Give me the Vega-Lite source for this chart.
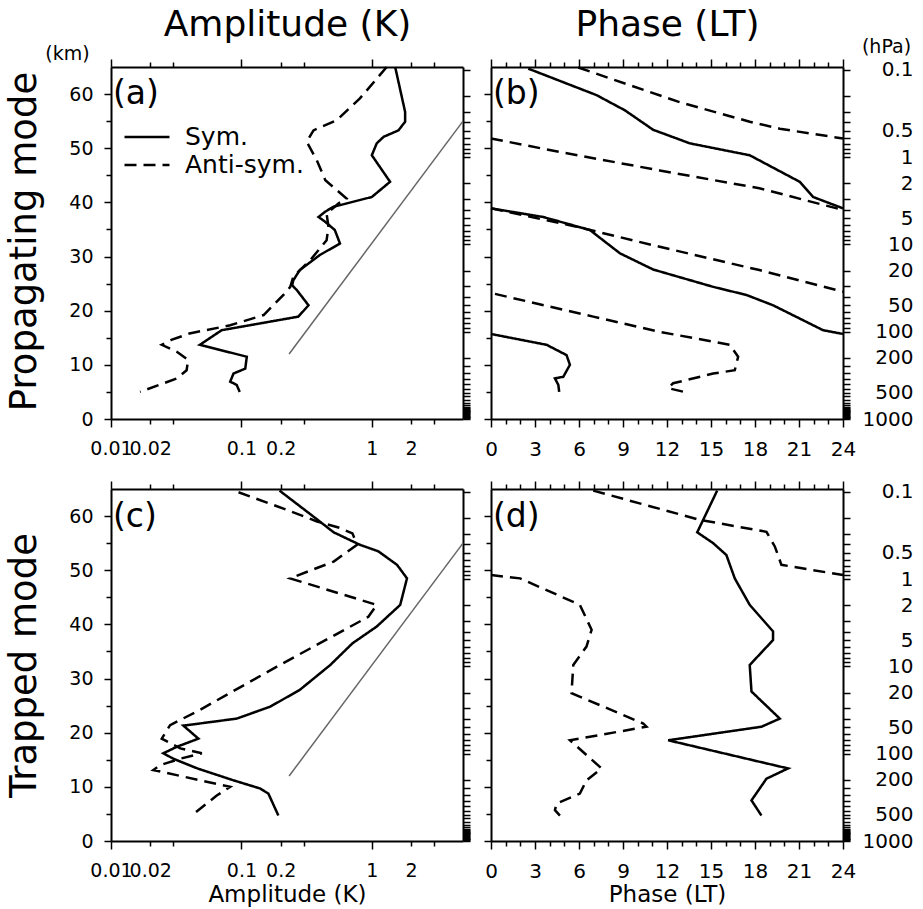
{
  "$schema": "https://vega.github.io/schema/vega-lite/v6.json",
  "autosize": {"type": "none"},
  "padding": {"left": 111, "top": 67, "right": 812, "bottom": 842},
  "background": "white",
  "datasets": {
    "a": [
      {"type":"Sym.","seg":"S1","i":0,"amp":1.51,"km":65},
      {"type":"Sym.","seg":"S1","i":1,"amp":1.80,"km":56.7},
      {"type":"Sym.","seg":"S1","i":2,"amp":1.80,"km":54.9},
      {"type":"Sym.","seg":"S1","i":3,"amp":1.60,"km":53.3},
      {"type":"Sym.","seg":"S1","i":4,"amp":1.23,"km":52.1},
      {"type":"Sym.","seg":"S1","i":5,"amp":1.09,"km":50.9},
      {"type":"Sym.","seg":"S1","i":6,"amp":1.0,"km":48.7},
      {"type":"Sym.","seg":"S1","i":7,"amp":1.38,"km":43.8},
      {"type":"Sym.","seg":"S1","i":8,"amp":1.0,"km":41.0},
      {"type":"Sym.","seg":"S1","i":9,"amp":0.64,"km":39.8},
      {"type":"Sym.","seg":"S1","i":10,"amp":0.51,"km":39.2},
      {"type":"Sym.","seg":"S1","i":11,"amp":0.44,"km":38.3},
      {"type":"Sym.","seg":"S1","i":12,"amp":0.39,"km":37.3},
      {"type":"Sym.","seg":"S1","i":13,"amp":0.44,"km":36.4},
      {"type":"Sym.","seg":"S1","i":14,"amp":0.52,"km":34.9},
      {"type":"Sym.","seg":"S1","i":15,"amp":0.57,"km":32.4},
      {"type":"Sym.","seg":"S1","i":16,"amp":0.40,"km":30.3},
      {"type":"Sym.","seg":"S1","i":17,"amp":0.28,"km":27.5},
      {"type":"Sym.","seg":"S1","i":18,"amp":0.25,"km":25.6},
      {"type":"Sym.","seg":"S1","i":19,"amp":0.245,"km":24.7},
      {"type":"Sym.","seg":"S1","i":20,"amp":0.266,"km":23.8},
      {"type":"Sym.","seg":"S1","i":21,"amp":0.327,"km":21.0},
      {"type":"Sym.","seg":"S1","i":22,"amp":0.273,"km":18.9},
      {"type":"Sym.","seg":"S1","i":23,"amp":0.0706,"km":16.4},
      {"type":"Sym.","seg":"S1","i":24,"amp":0.048,"km":13.7},
      {"type":"Sym.","seg":"S1","i":25,"amp":0.11,"km":11.5},
      {"type":"Sym.","seg":"S1","i":26,"amp":0.107,"km":9.3},
      {"type":"Sym.","seg":"S1","i":27,"amp":0.087,"km":8.4},
      {"type":"Sym.","seg":"S1","i":28,"amp":0.082,"km":6.9},
      {"type":"Sym.","seg":"S1","i":29,"amp":0.092,"km":6.3},
      {"type":"Sym.","seg":"S1","i":30,"amp":0.097,"km":5.0},
      {"type":"Anti-sym.","seg":"A1","i":0,"amp":1.30,"km":65},
      {"type":"Anti-sym.","seg":"A1","i":1,"amp":0.81,"km":59.2},
      {"type":"Anti-sym.","seg":"A1","i":2,"amp":0.54,"km":55.2},
      {"type":"Anti-sym.","seg":"A1","i":3,"amp":0.357,"km":53.3},
      {"type":"Anti-sym.","seg":"A1","i":4,"amp":0.317,"km":51.2},
      {"type":"Anti-sym.","seg":"A1","i":5,"amp":0.378,"km":47.8},
      {"type":"Anti-sym.","seg":"A1","i":6,"amp":0.44,"km":44.1},
      {"type":"Anti-sym.","seg":"A1","i":7,"amp":0.64,"km":40.7},
      {"type":"Anti-sym.","seg":"A1","i":8,"amp":0.554,"km":39.8},
      {"type":"Anti-sym.","seg":"A1","i":9,"amp":0.45,"km":37.9},
      {"type":"Anti-sym.","seg":"A1","i":10,"amp":0.465,"km":35.5},
      {"type":"Anti-sym.","seg":"A1","i":11,"amp":0.45,"km":33.0},
      {"type":"Anti-sym.","seg":"A1","i":12,"amp":0.336,"km":29.3},
      {"type":"Anti-sym.","seg":"A1","i":13,"amp":0.25,"km":26.3},
      {"type":"Anti-sym.","seg":"A1","i":14,"amp":0.237,"km":24.4},
      {"type":"Anti-sym.","seg":"A1","i":15,"amp":0.21,"km":22.9},
      {"type":"Anti-sym.","seg":"A1","i":16,"amp":0.148,"km":19.2},
      {"type":"Anti-sym.","seg":"A1","i":17,"amp":0.082,"km":17.3},
      {"type":"Anti-sym.","seg":"A1","i":18,"amp":0.040,"km":15.8},
      {"type":"Anti-sym.","seg":"A1","i":19,"amp":0.029,"km":14.6},
      {"type":"Anti-sym.","seg":"A1","i":20,"amp":0.0245,"km":13.7},
      {"type":"Anti-sym.","seg":"A1","i":21,"amp":0.032,"km":12.4},
      {"type":"Anti-sym.","seg":"A1","i":22,"amp":0.039,"km":10.9},
      {"type":"Anti-sym.","seg":"A1","i":23,"amp":0.038,"km":9.0},
      {"type":"Anti-sym.","seg":"A1","i":24,"amp":0.032,"km":7.5},
      {"type":"Anti-sym.","seg":"A1","i":25,"amp":0.0167,"km":5.0}
    ],
    "b": [
      {"type":"Sym.","seg":"S1","i":0,"phase":2.54,"km":64.7},
      {"type":"Sym.","seg":"S1","i":1,"phase":7.2,"km":59.8},
      {"type":"Sym.","seg":"S1","i":2,"phase":9.13,"km":57.0},
      {"type":"Sym.","seg":"S1","i":3,"phase":11.06,"km":53.4},
      {"type":"Sym.","seg":"S1","i":4,"phase":13.56,"km":50.9},
      {"type":"Sym.","seg":"S1","i":5,"phase":17.64,"km":48.7},
      {"type":"Sym.","seg":"S1","i":6,"phase":21.05,"km":43.8},
      {"type":"Sym.","seg":"S1","i":7,"phase":21.96,"km":41.0},
      {"type":"Sym.","seg":"S1","i":8,"phase":24,"km":38.9},
      {"type":"Sym.","seg":"S2","i":9,"phase":0,"km":38.9},
      {"type":"Sym.","seg":"S2","i":10,"phase":3.56,"km":37.3},
      {"type":"Sym.","seg":"S2","i":11,"phase":6.74,"km":34.9},
      {"type":"Sym.","seg":"S2","i":12,"phase":8.79,"km":30.6},
      {"type":"Sym.","seg":"S2","i":13,"phase":11.06,"km":27.6},
      {"type":"Sym.","seg":"S2","i":14,"phase":15.15,"km":24.4},
      {"type":"Sym.","seg":"S2","i":15,"phase":17.42,"km":22.9},
      {"type":"Sym.","seg":"S2","i":16,"phase":19.23,"km":21.0},
      {"type":"Sym.","seg":"S2","i":17,"phase":22.64,"km":16.4},
      {"type":"Sym.","seg":"S2","i":18,"phase":24,"km":15.7},
      {"type":"Sym.","seg":"S3","i":19,"phase":0,"km":15.7},
      {"type":"Sym.","seg":"S3","i":20,"phase":3.79,"km":13.7},
      {"type":"Sym.","seg":"S3","i":21,"phase":5.15,"km":11.8},
      {"type":"Sym.","seg":"S3","i":22,"phase":5.38,"km":10.0},
      {"type":"Sym.","seg":"S3","i":23,"phase":4.93,"km":7.8},
      {"type":"Sym.","seg":"S3","i":24,"phase":4.36,"km":7.5},
      {"type":"Sym.","seg":"S3","i":25,"phase":4.59,"km":6.3},
      {"type":"Sym.","seg":"S3","i":26,"phase":4.65,"km":5.0},
      {"type":"Anti-sym.","seg":"A1","i":0,"phase":5.95,"km":64.9},
      {"type":"Anti-sym.","seg":"A1","i":1,"phase":12.87,"km":58.5},
      {"type":"Anti-sym.","seg":"A1","i":2,"phase":17.64,"km":54.9},
      {"type":"Anti-sym.","seg":"A1","i":3,"phase":19.69,"km":53.6},
      {"type":"Anti-sym.","seg":"A1","i":4,"phase":24,"km":51.8},
      {"type":"Anti-sym.","seg":"A2","i":5,"phase":0,"km":51.8},
      {"type":"Anti-sym.","seg":"A2","i":6,"phase":4.7,"km":49.3},
      {"type":"Anti-sym.","seg":"A2","i":7,"phase":11.5,"km":45.9},
      {"type":"Anti-sym.","seg":"A2","i":8,"phase":18.3,"km":42.6},
      {"type":"Anti-sym.","seg":"A2","i":9,"phase":24,"km":38.6},
      {"type":"Anti-sym.","seg":"A3","i":10,"phase":0,"km":38.9},
      {"type":"Anti-sym.","seg":"A3","i":11,"phase":5.84,"km":35.5},
      {"type":"Anti-sym.","seg":"A3","i":12,"phase":11.5,"km":31.8},
      {"type":"Anti-sym.","seg":"A3","i":13,"phase":18.3,"km":27.5},
      {"type":"Anti-sym.","seg":"A3","i":14,"phase":24,"km":23.5},
      {"type":"Anti-sym.","seg":"A4","i":15,"phase":0.27,"km":23.1},
      {"type":"Anti-sym.","seg":"A4","i":16,"phase":6.97,"km":18.9},
      {"type":"Anti-sym.","seg":"A4","i":17,"phase":11.5,"km":16.1},
      {"type":"Anti-sym.","seg":"A4","i":18,"phase":16.28,"km":13.7},
      {"type":"Anti-sym.","seg":"A4","i":19,"phase":16.85,"km":11.5},
      {"type":"Anti-sym.","seg":"A4","i":20,"phase":16.62,"km":9.0},
      {"type":"Anti-sym.","seg":"A4","i":21,"phase":15.15,"km":8.4},
      {"type":"Anti-sym.","seg":"A4","i":22,"phase":12.42,"km":6.6},
      {"type":"Anti-sym.","seg":"A4","i":23,"phase":12.08,"km":5.7},
      {"type":"Anti-sym.","seg":"A4","i":24,"phase":13.33,"km":4.9}
    ],
    "c": [
      {"type":"Sym.","seg":"S1","i":0,"amp":0.196,"km":64.7},
      {"type":"Sym.","seg":"S1","i":1,"amp":0.357,"km":59.9},
      {"type":"Sym.","seg":"S1","i":2,"amp":0.51,"km":57.0},
      {"type":"Sym.","seg":"S1","i":3,"amp":0.81,"km":54.7},
      {"type":"Sym.","seg":"S1","i":4,"amp":1.12,"km":53.5},
      {"type":"Sym.","seg":"S1","i":5,"amp":1.56,"km":51.0},
      {"type":"Sym.","seg":"S1","i":6,"amp":1.86,"km":48.5},
      {"type":"Sym.","seg":"S1","i":7,"amp":1.65,"km":43.6},
      {"type":"Sym.","seg":"S1","i":8,"amp":1.09,"km":39.6},
      {"type":"Sym.","seg":"S1","i":9,"amp":0.71,"km":36.5},
      {"type":"Sym.","seg":"S1","i":10,"amp":0.48,"km":32.5},
      {"type":"Sym.","seg":"S1","i":11,"amp":0.28,"km":27.9},
      {"type":"Sym.","seg":"S1","i":12,"amp":0.166,"km":24.8},
      {"type":"Sym.","seg":"S1","i":13,"amp":0.092,"km":22.6},
      {"type":"Sym.","seg":"S1","i":14,"amp":0.0359,"km":21.3},
      {"type":"Sym.","seg":"S1","i":15,"amp":0.0468,"km":18.9},
      {"type":"Sym.","seg":"S1","i":16,"amp":0.032,"km":17.4},
      {"type":"Sym.","seg":"S1","i":17,"amp":0.0252,"km":16.2},
      {"type":"Sym.","seg":"S1","i":18,"amp":0.030,"km":15.2},
      {"type":"Sym.","seg":"S1","i":19,"amp":0.046,"km":13.4},
      {"type":"Sym.","seg":"S1","i":20,"amp":0.087,"km":11.2},
      {"type":"Sym.","seg":"S1","i":21,"amp":0.139,"km":9.7},
      {"type":"Sym.","seg":"S1","i":22,"amp":0.161,"km":8.75},
      {"type":"Sym.","seg":"S1","i":23,"amp":0.192,"km":4.7},
      {"type":"Anti-sym.","seg":"A1","i":0,"amp":0.095,"km":64.4},
      {"type":"Anti-sym.","seg":"A1","i":1,"amp":0.22,"km":61.2},
      {"type":"Anti-sym.","seg":"A1","i":2,"amp":0.38,"km":59.0},
      {"type":"Anti-sym.","seg":"A1","i":3,"amp":0.57,"km":57.8},
      {"type":"Anti-sym.","seg":"A1","i":4,"amp":0.71,"km":56.8},
      {"type":"Anti-sym.","seg":"A1","i":5,"amp":0.77,"km":54.7},
      {"type":"Anti-sym.","seg":"A1","i":6,"amp":0.51,"km":51.6},
      {"type":"Anti-sym.","seg":"A1","i":7,"amp":0.236,"km":48.5},
      {"type":"Anti-sym.","seg":"A1","i":8,"amp":1.09,"km":43.6},
      {"type":"Anti-sym.","seg":"A1","i":9,"amp":0.94,"km":41.4},
      {"type":"Anti-sym.","seg":"A1","i":10,"amp":0.187,"km":32.2},
      {"type":"Anti-sym.","seg":"A1","i":11,"amp":0.048,"km":24.2},
      {"type":"Anti-sym.","seg":"A1","i":12,"amp":0.0284,"km":21.4},
      {"type":"Anti-sym.","seg":"A1","i":13,"amp":0.0245,"km":18.9},
      {"type":"Anti-sym.","seg":"A1","i":14,"amp":0.034,"km":17.1},
      {"type":"Anti-sym.","seg":"A1","i":15,"amp":0.0497,"km":16.2},
      {"type":"Anti-sym.","seg":"A1","i":16,"amp":0.034,"km":15.2},
      {"type":"Anti-sym.","seg":"A1","i":17,"amp":0.0238,"km":14.0},
      {"type":"Anti-sym.","seg":"A1","i":18,"amp":0.0211,"km":13.1},
      {"type":"Anti-sym.","seg":"A1","i":19,"amp":0.082,"km":10.0},
      {"type":"Anti-sym.","seg":"A1","i":20,"amp":0.0647,"km":8.4},
      {"type":"Anti-sym.","seg":"A1","i":21,"amp":0.0416,"km":4.7}
    ],
    "d": [
      {"type":"Sym.","seg":"S1","i":0,"phase":15.42,"km":64.7},
      {"type":"Sym.","seg":"S1","i":1,"phase":14.06,"km":57.0},
      {"type":"Sym.","seg":"S1","i":2,"phase":15.15,"km":55.0},
      {"type":"Sym.","seg":"S1","i":3,"phase":16.05,"km":52.8},
      {"type":"Sym.","seg":"S1","i":4,"phase":16.62,"km":48.5},
      {"type":"Sym.","seg":"S1","i":5,"phase":17.64,"km":43.6},
      {"type":"Sym.","seg":"S1","i":6,"phase":19.23,"km":38.7},
      {"type":"Sym.","seg":"S1","i":7,"phase":19.23,"km":37.1},
      {"type":"Sym.","seg":"S1","i":8,"phase":17.64,"km":32.5},
      {"type":"Sym.","seg":"S1","i":9,"phase":17.76,"km":27.6},
      {"type":"Sym.","seg":"S1","i":10,"phase":19.69,"km":22.6},
      {"type":"Sym.","seg":"S1","i":11,"phase":18.44,"km":21.1},
      {"type":"Sym.","seg":"S1","i":12,"phase":12.08,"km":18.6},
      {"type":"Sym.","seg":"S1","i":13,"phase":20.25,"km":13.4},
      {"type":"Sym.","seg":"S1","i":14,"phase":18.78,"km":11.5},
      {"type":"Sym.","seg":"S1","i":15,"phase":17.76,"km":7.5},
      {"type":"Sym.","seg":"S1","i":16,"phase":18.44,"km":4.7},
      {"type":"Anti-sym.","seg":"A1","i":0,"phase":6.97,"km":64.7},
      {"type":"Anti-sym.","seg":"A1","i":1,"phase":14.24,"km":59.3},
      {"type":"Anti-sym.","seg":"A1","i":2,"phase":18.78,"km":57.1},
      {"type":"Anti-sym.","seg":"A1","i":3,"phase":19.35,"km":54.4},
      {"type":"Anti-sym.","seg":"A1","i":4,"phase":19.80,"km":51.0},
      {"type":"Anti-sym.","seg":"A1","i":5,"phase":24,"km":49.1},
      {"type":"Anti-sym.","seg":"A2","i":6,"phase":0,"km":49.1},
      {"type":"Anti-sym.","seg":"A2","i":7,"phase":1.98,"km":48.5},
      {"type":"Anti-sym.","seg":"A2","i":8,"phase":6.06,"km":43.6},
      {"type":"Anti-sym.","seg":"A2","i":9,"phase":6.86,"km":39.0},
      {"type":"Anti-sym.","seg":"A2","i":10,"phase":6.51,"km":35.9},
      {"type":"Anti-sym.","seg":"A2","i":11,"phase":5.61,"km":32.5},
      {"type":"Anti-sym.","seg":"A2","i":12,"phase":5.49,"km":27.3},
      {"type":"Anti-sym.","seg":"A2","i":13,"phase":10.38,"km":21.7},
      {"type":"Anti-sym.","seg":"A2","i":14,"phase":10.6,"km":21.1},
      {"type":"Anti-sym.","seg":"A2","i":15,"phase":5.38,"km":18.6},
      {"type":"Anti-sym.","seg":"A2","i":16,"phase":7.54,"km":13.4},
      {"type":"Anti-sym.","seg":"A2","i":17,"phase":6.51,"km":11.2},
      {"type":"Anti-sym.","seg":"A2","i":18,"phase":6.06,"km":8.75},
      {"type":"Anti-sym.","seg":"A2","i":19,"phase":4.47,"km":6.9},
      {"type":"Anti-sym.","seg":"A2","i":20,"phase":4.36,"km":5.7},
      {"type":"Anti-sym.","seg":"A2","i":21,"phase":4.70,"km":4.7}
    ],
    "ref": [
      {"amp":0.232,"km":12},
      {"amp":5,"km":55}
    ]
  },
  "concat": [
    {
      "width": 352, "height": 352,
      "title": {"text": "(a)", "anchor": "start", "frame": "group", "fontSize": 33, "offset": -131, "baseline": "alphabetic", "dx": 2},
      "resolve": {"axis": {"x": "independent", "y": "independent"}},
      "layer": [
        {
          "data": {"name": "a"},
          "transform": [{"filter": "datum.type == 'Sym.'"}],
          "mark": {"type": "line"},
          "encoding": {
            "x": {"field": "amp", "type": "quantitative", "scale": {"type": "log", "domain": [0.01, 5], "nice": false},
              "axis": {"orient": "bottom", "values": [0.01,0.02,0.03,0.1,0.2,0.3,1,2,3],
                "labelExpr": "datum.value == 0.03 || datum.value == 0.3 || datum.value == 3 ? '' : format(datum.value, '~g')",
                "tickSize": {"condition": {"test": "datum.value == 0.01 || datum.value == 0.1 || datum.value == 1", "value": 8}, "value": 5},
                "labelPadding": {"condition": {"test": "datum.value == 0.01 || datum.value == 0.1 || datum.value == 1", "value": 12}, "value": 15},
                "labelFontSize": 19, "title": null}},
            "y": {"field": "km", "type": "quantitative", "scale": {"domain": [0, 65], "nice": false},
              "axis": {"orient": "left", "values": [0,5,10,15,20,25,30,35,40,45,50,55,60],
                "labelExpr": "datum.value % 10 == 0 ? datum.label : ''",
                "tickSize": {"condition": {"test": "datum.value % 10 == 0", "value": 7}, "value": 5},
                "labelPadding": 11, "labelFontSize": 19,
                "title": "Propagating mode", "titleFontSize": 37, "titleAngle": 270, "titleX": -87, "titleY": 174, "titleAlign": "center", "titleBaseline": "middle"}},
            "strokeDash": {"field": "type", "type": "nominal", "scale": {"domain": ["Sym.", "Anti-sym."], "range": [[1, 0], [12, 7]]},
              "legend": {"orient": "none", "legendX": 12, "legendY": 56, "title": null, "symbolType": "stroke", "symbolSize": 2025, "symbolStrokeWidth": 2.5, "symbolStrokeColor": "black", "labelFontSize": 25, "labelColor": "black", "labelOffset": 14, "clipHeight": 28, "rowPadding": 0, "padding": 0}},
            "detail": {"field": "seg"},
            "order": {"field": "i", "type": "quantitative"}
          }
        },
        {
          "data": {"name": "a"},
          "transform": [{"filter": "datum.type == 'Anti-sym.'"}],
          "mark": {"type": "line"},
          "encoding": {
            "x": {"field": "amp", "type": "quantitative", "scale": {"type": "log", "domain": [0.01, 5], "nice": false},
              "axis": {"orient": "top", "values": [0.01,0.02,0.03,0.1,0.2,0.3,1,2,3], "labels": false,
                "tickSize": {"condition": {"test": "datum.value == 0.01 || datum.value == 0.1 || datum.value == 1", "value": 8}, "value": 5},
                "title": "Amplitude (K)", "titleFontSize": 36, "titleY": -32, "titleBaseline": "alphabetic"}},
            "y": {"field": "km", "type": "quantitative", "scale": {"domain": [0, 65], "nice": false},
              "axis": {"orient": "right", "labels": false, "tickSize": 7, "title": null,
                "values": [64.4724,59.6203,56.7821,54.7683,53.2063,51.93,50.851,49.9163,49.0918,48.3543,43.5023,40.664,38.6502,37.0882,35.812,34.7329,33.7982,32.9737,32.2362,27.3841,24.5459,22.5321,20.9701,19.6939,18.6148,17.6801,16.8556,16.1181,11.2661,9.704,8.4278,7.349,6.414,5.59,4.852,4.185,3.5758,3.0155,2.4967,2.2995,2.1078,1.9211,1.7392,1.562,1.3892,1.2205,1.0557,0.8948,0.7375,0.5837,0.4332,0.2858,0.1414,0]}},
            "strokeDash": {"field": "type", "type": "nominal", "scale": {"domain": ["Sym.", "Anti-sym."], "range": [[1, 0], [12, 7]]}, "legend": null},
            "detail": {"field": "seg"},
            "order": {"field": "i", "type": "quantitative"}
          }
        },
        {
          "data": {"name": "ref"},
          "mark": {"type": "line", "color": "#666666", "strokeWidth": 1.5},
          "encoding": {
            "x": {"field": "amp", "type": "quantitative", "scale": {"type": "log", "domain": [0.01, 5], "nice": false}, "axis": null},
            "y": {"field": "km", "type": "quantitative", "scale": {"domain": [0, 65], "nice": false},
              "axis": {"orient": "left", "domain": false, "ticks": false, "labels": false, "title": "(km)", "titleAngle": 0, "titleX": -44, "titleY": -14, "titleFontSize": 19, "titleAlign": "center", "titleBaseline": "middle"}}
          }
        }
      ]
    },
    {
      "width": 352, "height": 352,
      "title": {"text": "(b)", "anchor": "start", "frame": "group", "fontSize": 33, "offset": -131, "baseline": "alphabetic", "dx": 2},
      "resolve": {"axis": {"x": "independent", "y": "independent"}},
      "layer": [
        {
          "data": {"name": "b"},
          "transform": [{"filter": "datum.type == 'Sym.'"}],
          "mark": {"type": "line"},
          "encoding": {
            "x": {"field": "phase", "type": "quantitative", "scale": {"domain": [0, 24], "nice": false},
              "axis": {"orient": "bottom", "values": [0,1,2,3,4,5,6,7,8,9,10,11,12,13,14,15,16,17,18,19,20,21,22,23,24],
                "labelExpr": "datum.value % 3 == 0 ? datum.label : ''",
                "tickSize": {"condition": {"test": "datum.value % 3 == 0", "value": 8}, "value": 5},
                "labelPadding": 12, "labelFontSize": 20, "title": null}},
            "y": {"field": "km", "type": "quantitative", "scale": {"domain": [0, 65], "nice": false},
              "axis": {"orient": "left", "values": [0,5,10,15,20,25,30,35,40,45,50,55,60], "labels": false,
                "tickSize": {"condition": {"test": "datum.value % 10 == 0", "value": 7}, "value": 5}, "title": null}},
            "strokeDash": {"field": "type", "type": "nominal", "scale": {"domain": ["Sym.", "Anti-sym."], "range": [[1, 0], [12, 7]]}, "legend": null},
            "detail": {"field": "seg"},
            "order": {"field": "i", "type": "quantitative"}
          }
        },
        {
          "data": {"name": "b"},
          "transform": [{"filter": "datum.type == 'Anti-sym.'"}],
          "mark": {"type": "line"},
          "encoding": {
            "x": {"field": "phase", "type": "quantitative", "scale": {"domain": [0, 24], "nice": false},
              "axis": {"orient": "top", "values": [0,1,2,3,4,5,6,7,8,9,10,11,12,13,14,15,16,17,18,19,20,21,22,23,24], "labels": false,
                "tickSize": {"condition": {"test": "datum.value % 3 == 0", "value": 8}, "value": 5},
                "title": "Phase (LT)", "titleFontSize": 36, "titleY": -32, "titleBaseline": "alphabetic"}},
            "y": {"field": "km", "type": "quantitative", "scale": {"domain": [0, 65], "nice": false},
              "axis": {"orient": "right", "tickSize": 7,
                "values": [64.4724,59.6203,56.7821,54.7683,53.2063,51.93,50.851,49.9163,49.0918,48.3543,43.5023,40.664,38.6502,37.0882,35.812,34.7329,33.7982,32.9737,32.2362,27.3841,24.5459,22.5321,20.9701,19.6939,18.6148,17.6801,16.8556,16.1181,11.2661,9.704,8.4278,7.349,6.414,5.59,4.852,4.185,3.5758,3.0155,2.4967,2.2995,2.1078,1.9211,1.7392,1.562,1.3892,1.2205,1.0557,0.8948,0.7375,0.5837,0.4332,0.2858,0.1414,0],
                "labelExpr": "indexof(['0.1','0.5','1','2','5','10','20','50','100','200','500','1000'], format(1000*exp(-datum.value/7), '.2~r')) >= 0 ? format(1000*exp(-datum.value/7), '.2~r') : ''",
                "labelAlign": "right", "labelBaseline": "middle", "labelPadding": 63, "labelFontSize": 20,
                "title": "(hPa)", "titleAngle": 0, "titleX": 43, "titleY": -21, "titleFontSize": 19, "titleAlign": "center", "titleBaseline": "middle"}},
            "strokeDash": {"field": "type", "type": "nominal", "scale": {"domain": ["Sym.", "Anti-sym."], "range": [[1, 0], [12, 7]]}, "legend": null},
            "detail": {"field": "seg"},
            "order": {"field": "i", "type": "quantitative"}
          }
        }
      ]
    },
    {
      "width": 352, "height": 352,
      "title": {"text": "(c)", "anchor": "start", "frame": "group", "fontSize": 33, "offset": -80, "baseline": "alphabetic", "dx": 2},
      "resolve": {"axis": {"x": "independent", "y": "independent"}},
      "layer": [
        {
          "data": {"name": "c"},
          "transform": [{"filter": "datum.type == 'Sym.'"}],
          "mark": {"type": "line"},
          "encoding": {
            "x": {"field": "amp", "type": "quantitative", "scale": {"type": "log", "domain": [0.01, 5], "nice": false},
              "axis": {"orient": "bottom", "values": [0.01,0.02,0.03,0.1,0.2,0.3,1,2,3],
                "labelExpr": "datum.value == 0.03 || datum.value == 0.3 || datum.value == 3 ? '' : format(datum.value, '~g')",
                "tickSize": {"condition": {"test": "datum.value == 0.01 || datum.value == 0.1 || datum.value == 1", "value": 8}, "value": 5},
                "labelPadding": {"condition": {"test": "datum.value == 0.01 || datum.value == 0.1 || datum.value == 1", "value": 12}, "value": 15},
                "labelFontSize": 19,
                "title": "Amplitude (K)", "titleFontSize": 23, "titleY": 60, "titleBaseline": "alphabetic"}},
            "y": {"field": "km", "type": "quantitative", "scale": {"domain": [0, 65], "nice": false},
              "axis": {"orient": "left", "values": [0,5,10,15,20,25,30,35,40,45,50,55,60],
                "labelExpr": "datum.value % 10 == 0 ? datum.label : ''",
                "tickSize": {"condition": {"test": "datum.value % 10 == 0", "value": 7}, "value": 5},
                "labelPadding": 11, "labelFontSize": 19,
                "title": "Trapped mode", "titleFontSize": 37, "titleAngle": 270, "titleX": -87, "titleY": 176, "titleAlign": "center", "titleBaseline": "middle"}},
            "strokeDash": {"field": "type", "type": "nominal", "scale": {"domain": ["Sym.", "Anti-sym."], "range": [[1, 0], [12, 7]]}, "legend": null},
            "detail": {"field": "seg"},
            "order": {"field": "i", "type": "quantitative"}
          }
        },
        {
          "data": {"name": "c"},
          "transform": [{"filter": "datum.type == 'Anti-sym.'"}],
          "mark": {"type": "line"},
          "encoding": {
            "x": {"field": "amp", "type": "quantitative", "scale": {"type": "log", "domain": [0.01, 5], "nice": false},
              "axis": {"orient": "top", "values": [0.01,0.02,0.03,0.1,0.2,0.3,1,2,3], "labels": false,
                "tickSize": {"condition": {"test": "datum.value == 0.01 || datum.value == 0.1 || datum.value == 1", "value": 8}, "value": 5},
                "title": null}},
            "y": {"field": "km", "type": "quantitative", "scale": {"domain": [0, 65], "nice": false},
              "axis": {"orient": "right", "labels": false, "tickSize": 7, "title": null,
                "values": [64.4724,59.6203,56.7821,54.7683,53.2063,51.93,50.851,49.9163,49.0918,48.3543,43.5023,40.664,38.6502,37.0882,35.812,34.7329,33.7982,32.9737,32.2362,27.3841,24.5459,22.5321,20.9701,19.6939,18.6148,17.6801,16.8556,16.1181,11.2661,9.704,8.4278,7.349,6.414,5.59,4.852,4.185,3.5758,3.0155,2.4967,2.2995,2.1078,1.9211,1.7392,1.562,1.3892,1.2205,1.0557,0.8948,0.7375,0.5837,0.4332,0.2858,0.1414,0]}},
            "strokeDash": {"field": "type", "type": "nominal", "scale": {"domain": ["Sym.", "Anti-sym."], "range": [[1, 0], [12, 7]]}, "legend": null},
            "detail": {"field": "seg"},
            "order": {"field": "i", "type": "quantitative"}
          }
        },
        {
          "data": {"name": "ref"},
          "mark": {"type": "line", "color": "#666666", "strokeWidth": 1.5},
          "encoding": {
            "x": {"field": "amp", "type": "quantitative", "scale": {"type": "log", "domain": [0.01, 5], "nice": false}, "axis": null},
            "y": {"field": "km", "type": "quantitative", "scale": {"domain": [0, 65], "nice": false}, "axis": null}
          }
        }
      ]
    },
    {
      "width": 352, "height": 352,
      "title": {"text": "(d)", "anchor": "start", "frame": "group", "fontSize": 33, "offset": -80, "baseline": "alphabetic", "dx": 2},
      "resolve": {"axis": {"x": "independent", "y": "independent"}},
      "layer": [
        {
          "data": {"name": "d"},
          "transform": [{"filter": "datum.type == 'Sym.'"}],
          "mark": {"type": "line"},
          "encoding": {
            "x": {"field": "phase", "type": "quantitative", "scale": {"domain": [0, 24], "nice": false},
              "axis": {"orient": "bottom", "values": [0,1,2,3,4,5,6,7,8,9,10,11,12,13,14,15,16,17,18,19,20,21,22,23,24],
                "labelExpr": "datum.value % 3 == 0 ? datum.label : ''",
                "tickSize": {"condition": {"test": "datum.value % 3 == 0", "value": 8}, "value": 5},
                "labelPadding": 12, "labelFontSize": 20,
                "title": "Phase (LT)", "titleFontSize": 23, "titleY": 60, "titleBaseline": "alphabetic"}},
            "y": {"field": "km", "type": "quantitative", "scale": {"domain": [0, 65], "nice": false},
              "axis": {"orient": "left", "values": [0,5,10,15,20,25,30,35,40,45,50,55,60], "labels": false,
                "tickSize": {"condition": {"test": "datum.value % 10 == 0", "value": 7}, "value": 5}, "title": null}},
            "strokeDash": {"field": "type", "type": "nominal", "scale": {"domain": ["Sym.", "Anti-sym."], "range": [[1, 0], [12, 7]]}, "legend": null},
            "detail": {"field": "seg"},
            "order": {"field": "i", "type": "quantitative"}
          }
        },
        {
          "data": {"name": "d"},
          "transform": [{"filter": "datum.type == 'Anti-sym.'"}],
          "mark": {"type": "line"},
          "encoding": {
            "x": {"field": "phase", "type": "quantitative", "scale": {"domain": [0, 24], "nice": false},
              "axis": {"orient": "top", "values": [0,1,2,3,4,5,6,7,8,9,10,11,12,13,14,15,16,17,18,19,20,21,22,23,24], "labels": false,
                "tickSize": {"condition": {"test": "datum.value % 3 == 0", "value": 8}, "value": 5},
                "title": null}},
            "y": {"field": "km", "type": "quantitative", "scale": {"domain": [0, 65], "nice": false},
              "axis": {"orient": "right", "tickSize": 7,
                "values": [64.4724,59.6203,56.7821,54.7683,53.2063,51.93,50.851,49.9163,49.0918,48.3543,43.5023,40.664,38.6502,37.0882,35.812,34.7329,33.7982,32.9737,32.2362,27.3841,24.5459,22.5321,20.9701,19.6939,18.6148,17.6801,16.8556,16.1181,11.2661,9.704,8.4278,7.349,6.414,5.59,4.852,4.185,3.5758,3.0155,2.4967,2.2995,2.1078,1.9211,1.7392,1.562,1.3892,1.2205,1.0557,0.8948,0.7375,0.5837,0.4332,0.2858,0.1414,0],
                "labelExpr": "indexof(['0.1','0.5','1','2','5','10','20','50','100','200','500','1000'], format(1000*exp(-datum.value/7), '.2~r')) >= 0 ? format(1000*exp(-datum.value/7), '.2~r') : ''",
                "labelAlign": "right", "labelBaseline": "middle", "labelPadding": 63, "labelFontSize": 20,
                "title": null}},
            "strokeDash": {"field": "type", "type": "nominal", "scale": {"domain": ["Sym.", "Anti-sym."], "range": [[1, 0], [12, 7]]}, "legend": null},
            "detail": {"field": "seg"},
            "order": {"field": "i", "type": "quantitative"}
          }
        }
      ]
    }
  ],
  "columns": 2,
  "spacing": {"row": 70, "column": 28},
  "bounds": "flush",
  "config": {
    "font": "DejaVu Sans",
    "view": {"stroke": null},
    "axis": {"domainColor": "black", "domainWidth": 2, "tickColor": "black", "tickWidth": 1.5, "labelColor": "black", "titleColor": "black", "labelFont": "DejaVu Sans", "titleFont": "DejaVu Sans", "titleFontWeight": "normal", "grid": false, "labelOverlap": false, "labelFlush": false, "labelBound": false},
    "title": {"font": "DejaVu Sans", "fontWeight": "normal", "color": "black"},
    "legend": {"labelFont": "DejaVu Sans"},
    "line": {"color": "black", "strokeWidth": 2.5}
  }
}
